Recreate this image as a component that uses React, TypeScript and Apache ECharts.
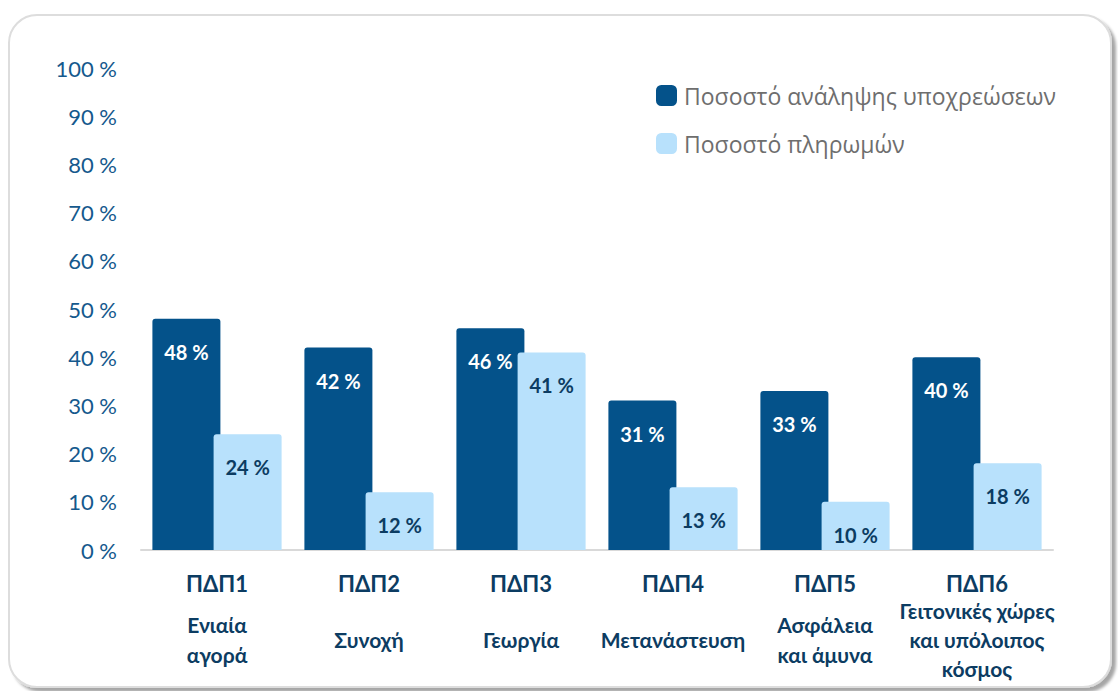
import React, { useEffect, useRef } from "react";
import * as echarts from "echarts";

const codes = ["ΠΔΠ1", "ΠΔΠ2", "ΠΔΠ3", "ΠΔΠ4", "ΠΔΠ5", "ΠΔΠ6"];
const names = [
  "Ενιαία\nαγορά",
  "Συνοχή",
  "Γεωργία",
  "Μετανάστευση",
  "Ασφάλεια\nκαι άμυνα",
  "Γειτονικές χώρες\nκαι υπόλοιπος\nκόσμος",
];
const seriesNames = ["Ποσοστό ανάληψης υποχρεώσεων", "Ποσοστό πληρωμών"];
const commitments = [48, 42, 46, 31, 33, 40];
const payments = [24, 12, 41, 13, 10, 18];
const yTicks = [0, 10, 20, 30, 40, 50, 60, 70, 80, 90, 100];

const DARK = "#04528a";
const LIGHT = "#b8e1fc";
const NAVY = "#0c3c62";
const FONT = "Lato, 'Open Sans', sans-serif";

export default function App() {
  const ref = useRef<HTMLDivElement>(null);
  useEffect(() => {
    if (!ref.current) return;
    const chart = echarts.init(ref.current, null, { renderer: "svg" });
    const cats = codes.map((c, i) => c + "||" + names[i]);
    chart.setOption({
      animation: false,
      backgroundColor: "#ffffff",
      graphic: [
        {
          type: "rect",
          z: -10,
          shape: { x: 9, y: 15, width: 1102, height: 672, r: 28 },
          style: {
            fill: "#ffffff",
            stroke: "#dddddd",
            lineWidth: 2,
            shadowBlur: 3,
            shadowOffsetX: 4,
            shadowOffsetY: 4,
            shadowColor: "rgba(0,0,0,0.35)",
          },
        },
      ],
      legend: {
        orient: "vertical",
        left: 651,
        top: 79,
        itemWidth: 21,
        itemHeight: 21,
        itemGap: 25,
        icon: "roundRect",
        textStyle: { color: "#6e6e6e", fontSize: 23, fontFamily: "'Open Sans', sans-serif", padding: [0, 0, 0, 2] },
        data: seriesNames,
      },
      grid: { left: 141, right: 65, top: 68, bottom: 141, containLabel: false },
      xAxis: {
        type: "category",
        data: cats,
        axisLine: { show: true, lineStyle: { color: "#d9d9d9", width: 2 } },
        axisTick: { show: false },
        axisLabel: {
          interval: 0,
          margin: 22,
          formatter: (v: string) => {
            const [code, name] = v.split("||");
            const lines = name.split("\n");
            const lh = lines.length >= 3 ? 29 : 30;
            const spacer = Math.max(1, 639 - 594 - (lines.length * lh) / 2);
            const key = lines.length >= 3 ? "d3" : "d";
            return (
              "{t|" + code + "}\n{s" + Math.round(spacer) + "| }\n" +
              lines.map((l) => "{" + key + "|" + l + "}").join("\n")
            );
          },
          rich: (() => {
            const r: any = {
              t: { fontFamily: FONT, fontWeight: "bold", fontSize: 22, color: NAVY, lineHeight: 22, align: "center" },
              d: { fontFamily: FONT, fontWeight: "bold", fontSize: 21, color: NAVY, lineHeight: 30, align: "center" },
              d3: { fontFamily: FONT, fontWeight: "bold", fontSize: 21, color: NAVY, lineHeight: 29, align: "center" },
            };
            for (let i = 1; i <= 40; i++) r["s" + i] = { fontSize: 1, lineHeight: i };
            return r;
          })(),
        },
      },
      yAxis: {
        type: "value",
        min: 0,
        max: 100,
        interval: 10,
        splitLine: { show: false },
        axisLine: { show: false },
        axisTick: { show: false },
        axisLabel: {
          margin: 24,
          color: "#15598d",
          fontSize: 22,
          fontFamily: FONT,
          formatter: (v: number) => (yTicks.includes(v) ? v + " %" : ""),
        },
      },
      series: [
        {
          name: seriesNames[0],
          type: "bar",
          data: commitments,
          barWidth: 68,
          barGap: "-10%",
          itemStyle: { color: DARK, borderRadius: [3, 3, 0, 0] },
          label: {
            show: true,
            position: "insideTop",
            distance: 23,
            formatter: "{c} %",
            color: "#ffffff",
            fontWeight: "bold",
            fontSize: 20,
            fontFamily: FONT,
          },
        },
        {
          name: seriesNames[1],
          type: "bar",
          data: payments,
          barWidth: 68,
          barGap: "-10%",
          itemStyle: { color: LIGHT, borderRadius: [3, 3, 0, 0] },
          label: {
            show: true,
            position: "insideTop",
            distance: 23,
            formatter: "{c} %",
            color: NAVY,
            fontWeight: "bold",
            fontSize: 20,
            fontFamily: FONT,
          },
        },
      ],
    });
    return () => chart.dispose();
  }, []);
  return (
    <div
      ref={ref}
      style={{ position: "fixed", left: 0, top: 0, width: 1118, height: 691 }}
    />
  );
}
